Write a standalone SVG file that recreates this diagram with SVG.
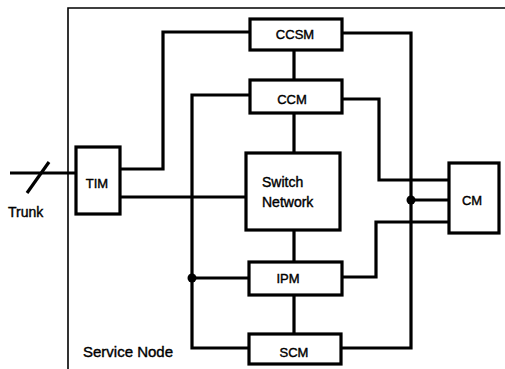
<svg xmlns="http://www.w3.org/2000/svg" width="505" height="369" viewBox="0 0 505 369">
<style>
.box{fill:#fff;stroke:#000;stroke-width:3.2}
.ln{fill:none;stroke:#000;stroke-width:3.2;stroke-linejoin:miter}
.t{font-family:"Liberation Sans",Arial,sans-serif;font-size:13px;fill:#000;stroke:#000;stroke-width:0.4;text-anchor:middle}
.tl{font-family:"Liberation Sans",Arial,sans-serif;font-size:14px;fill:#000;stroke:#000;stroke-width:0.4}
</style>
<rect width="505" height="369" fill="#fff"/>
<g id="service-node">
<path d="M68,369 V8 H505" fill="none" stroke="#000" stroke-width="1.6"/>
<text class="tl" x="83" y="357" style="font-size:15px">Service Node</text>
</g>
<g id="connectors">
<path class="ln" d="M10,173 H76"/>
<path class="ln" d="M49,162 L27,193" stroke-width="4"/>
<path class="ln" d="M120,169 H163 V32 H250"/>
<path class="ln" d="M120,197 H246"/>
<path class="ln" d="M250,95 H192 V348 H250"/>
<path class="ln" d="M192,278 H250"/>
<path class="ln" d="M294,50 V80 M294,113 V153 M294,230 V262 M294,295 V334"/>
<path class="ln" d="M342,33 H411 V348 H342"/>
<path class="ln" d="M411,200 H449"/>
<path class="ln" d="M342,99 H379 V180 H449"/>
<path class="ln" d="M342,277 H376 V222 H449"/>
<circle cx="192" cy="278" r="4.5"/>
<circle cx="411" cy="200" r="4.5"/>
</g>
<g id="trunk"><text class="tl" x="8" y="217">Trunk</text></g>
<g id="TIM"><rect class="box" x="76" y="147" width="44" height="67"/><text class="t" x="97" y="188">TIM</text></g>
<g id="CCSM"><rect class="box" x="250" y="19" width="92" height="31"/><text class="t" x="295" y="39">CCSM</text></g>
<g id="CCM"><rect class="box" x="250" y="80" width="92" height="33"/><text class="t" x="292" y="104">CCM</text></g>
<g id="switch-network"><rect class="box" x="246" y="153" width="94" height="77"/><text class="tl" x="262" y="187">Switch</text><text class="tl" x="262" y="207">Network</text></g>
<g id="IPM"><rect class="box" x="249" y="262" width="93" height="33"/><text class="t" x="288" y="283">IPM</text></g>
<g id="SCM"><rect class="box" x="249" y="334" width="92" height="30"/><text class="t" x="294" y="357">SCM</text></g>
<g id="CM"><rect class="box" x="449" y="163" width="50" height="70"/><text class="t" x="472" y="205">CM</text></g>
</svg>
